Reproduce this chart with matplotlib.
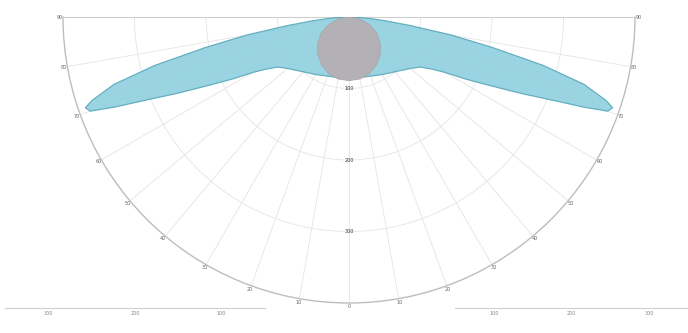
import numpy as np
import matplotlib
matplotlib.use("Agg")
import matplotlib.pyplot as plt

# angles measured from straight down (nadir), degrees
lobe_angles = [0, 10, 20, 30, 40, 50, 55, 58, 60, 62, 64, 66, 68, 69, 70, 71, 72,
               74, 76, 78, 80, 82, 84, 86, 88, 90]
lobe_values = [85, 86, 88, 93, 100, 112, 122, 138, 155, 185, 218, 262, 315, 352,
               385, 390, 378, 342, 280, 205, 145, 88, 52, 28, 12, 0]

grey_angles = [0, 10, 20, 30, 40, 50, 60, 70, 80, 90]
grey_values = [89, 88, 84, 77, 68, 57, 45, 30, 15, 0]

ring_values = [100, 200, 300]
ring_labels = ["100", "200", "300"]
angle_ticks = list(range(-90, 91, 10))
bottom_left_labels = ["300", "200", "100"]
bottom_right_labels = ["100", "200", "300"]


def mirror(angles, values):
    a = np.array(angles, float)
    v = np.array(values, float)
    th = np.concatenate([-a[::-1], a[1:]])
    rr = np.concatenate([v[::-1], v[1:]])
    return np.radians(th), rr


fig = plt.figure(figsize=(6.88, 3.33), dpi=100)
fig.patch.set_facecolor("white")

# square box, the half disc sits in its middle
ax = fig.add_axes([63 / 688, (333 - 446) / 333, 572 / 688, 572 / 333], projection="polar")
ax.set_theta_zero_location("S")
ax.set_thetamin(-90)
ax.set_thetamax(90)
ax.set_ylim(0, 400)

th, rr = mirror(lobe_angles, lobe_values)
ax.fill(th, rr, facecolor="#8fd0e0", edgecolor="#5aa9ba", linewidth=0.9,
        alpha=0.9, zorder=3)

th, rr = mirror(grey_angles, grey_values)
ax.fill(th, rr, facecolor="#b3b0b6", edgecolor="#a8a6ab", linewidth=0.6, zorder=4)

ax.set_thetagrids(angle_ticks, [str(abs(a)) for a in angle_ticks],
                  fontsize=3.5, color="#666666")
ax.tick_params(axis="x", pad=-8)
ax.set_yticks(ring_values)
ax.set_yticklabels([])
for r, lab in zip(ring_values, ring_labels):
    ax.text(0, r, lab, fontsize=3.5, color="#333333", ha="center", va="center",
            zorder=5)
ax.grid(color="#e4e4e4", linewidth=0.6)
ax.spines["polar"].set_color("#bdbdbd")
ax.spines["polar"].set_linewidth(1.0)
ax.spines["start"].set_color("#cfcfcf")
ax.spines["end"].set_color("#cfcfcf")
ax.spines["inner"].set_visible(False)

# bottom scales
for box, labels in [([5 / 688, 25 / 333, 260 / 688, 0.001], bottom_left_labels),
                    ([455 / 688, 25 / 333, 233 / 688, 0.001], bottom_right_labels)]:
    bx = fig.add_axes(box)
    bx.set_xlim(0, 3)
    bx.set_xticks([0.5, 1.5, 2.5])
    bx.set_xticklabels(labels, fontsize=3.5, color="#888888")
    bx.set_yticks([])
    for s in ["top", "left", "right"]:
        bx.spines[s].set_visible(False)
    bx.spines["bottom"].set_color("#d0d0d0")
    bx.tick_params(axis="x", length=0, pad=2)
    bx.patch.set_alpha(0)

fig.savefig("out.png", dpi=100, facecolor="white")
